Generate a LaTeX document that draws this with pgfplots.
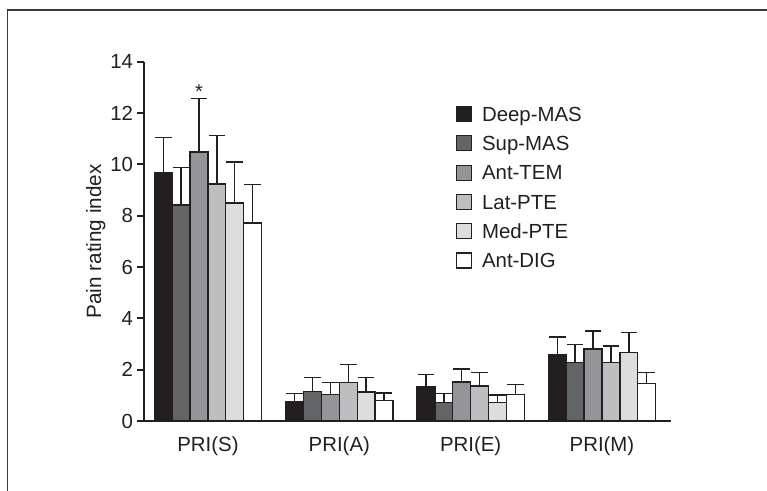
\documentclass[border=0pt]{standalone}
\usepackage{pgfplots}
\pgfplotsset{compat=1.18}
\usepackage{fontspec}
\setmainfont{Liberation Sans}
\definecolor{cA}{HTML}{231F20}
\definecolor{cB}{HTML}{636466}
\definecolor{cC}{HTML}{939598}
\definecolor{cD}{HTML}{BCBEC0}
\definecolor{cE}{HTML}{DCDDDF}
\definecolor{cF}{HTML}{FFFFFF}
\definecolor{frame}{HTML}{3A3A3A}
\begin{document}
\begin{tikzpicture}
\useasboundingbox (0,0) rectangle (575.25pt,-367.5pt);
\draw[line width=0.9pt, color=frame] (5.5pt,-400pt) -- (5.5pt,-7.5pt) -- (600pt,-7.5pt);
\begin{axis}[
  at={(108.2pt,-315.75pt)}, anchor=south west,
  scale only axis, width=395pt, height=269.5pt,
  xmin=-0.485, xmax=3.525, ymin=0, ymax=14,
  ybar=0pt, bar width=0.136,
  axis x line*=bottom, axis y line*=left,
  axis line style={-, line width=1.5pt, color=cA},
  xtick={0,1,2,3},
  xticklabels={PRI(S),PRI(A),PRI(E),PRI(M)},
  x tick style={draw=none},
  ytick={0,2,4,6,8,10,12,14},
  y tick style={line width=1.5pt, color=cA},
  tick align=outside, major tick length=5.25pt,
  /pgf/number format/assume math mode=true,
  tick label style={font=\fontsize{15.3}{18}\selectfont, text=cA},
  yticklabel style={inner sep=0pt, xshift=-3pt},
  xticklabel style={inner sep=0pt, yshift=-6pt},
  ylabel={Pain rating index},
  ylabel style={font=\fontsize{15.5}{18}\selectfont, text=cA, at={(axis description cs:-0.082,0.5)}, anchor=base},
  every axis plot/.append style={draw=cA, line width=1pt},
  error bars/y dir=plus, error bars/y explicit,
  error bars/error mark=|,
  error bars/error bar style={line width=1.1pt, color=cA},
  error bars/error mark options={line width=1.1pt, mark size=6.2pt, color=cA},
  area legend,
  legend image code/.code={\draw[#1, line width=0.8pt] (0pt,-0.3pt) rectangle (11.25pt,10.95pt);},
  legend style={at={(axis description cs:0.5914,0.877)}, anchor=north west, draw=none, fill=none,
    font=\fontsize{15.3}{18}\selectfont, text=cA, inner sep=0pt, row sep=7.6pt, column sep=7.5pt,
    nodes={inner sep=0pt, text height=11pt, text depth=3pt, anchor=base west}},
  legend cell align=left,
]
\addplot[fill=cA] coordinates {(0,9.66) +- (0,1.38) (1,0.755) +- (0,0.315) (2,1.33) +- (0,0.49) (3,2.57) +- (0,0.71)};
\addlegendentry{Deep-MAS}
\addplot[fill=cB] coordinates {(0,8.41) +- (0,1.46) (1,1.16) +- (0,0.53) (2,0.72) +- (0,0.35) (3,2.28) +- (0,0.71)};
\addlegendentry{Sup-MAS}
\addplot[fill=cC] coordinates {(0,10.48) +- (0,2.08) (1,1.02) +- (0,0.48) (2,1.52) +- (0,0.50) (3,2.81) +- (0,0.69)};
\addlegendentry{Ant-TEM}
\addplot[fill=cD] coordinates {(0,9.24) +- (0,1.89) (1,1.51) +- (0,0.70) (2,1.37) +- (0,0.53) (3,2.28) +- (0,0.65)};
\addlegendentry{Lat-PTE}
\addplot[fill=cE] coordinates {(0,8.49) +- (0,1.60) (1,1.13) +- (0,0.56) (2,0.72) +- (0,0.30) (3,2.67) +- (0,0.77)};
\addlegendentry{Med-PTE}
\addplot[fill=cF] coordinates {(0,7.71) +- (0,1.51) (1,0.81) +- (0,0.28) (2,1.03) +- (0,0.40) (3,1.45) +- (0,0.44)};
\addlegendentry{Ant-DIG}
\node[font=\fontsize{15}{18}\selectfont, text=cA, anchor=base, inner sep=0pt] at (axis cs:-0.068,12.56) {*};
\end{axis}
\end{tikzpicture}
\end{document}
